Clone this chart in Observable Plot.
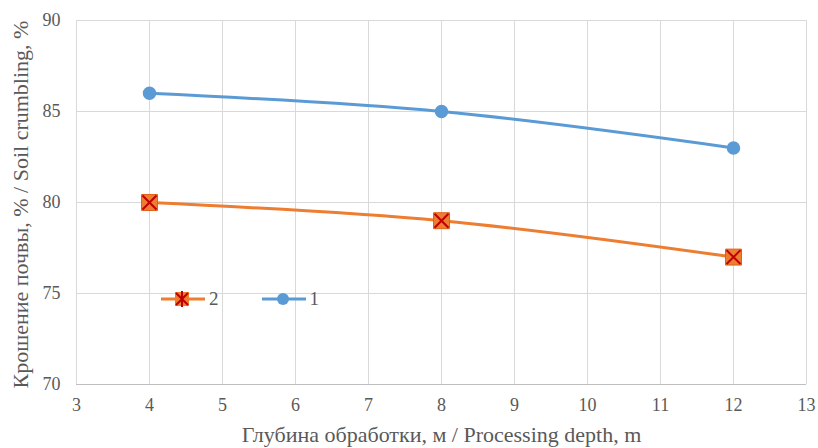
<!DOCTYPE html>
<html>
<head>
<meta charset="utf-8">
<script src="https://cdn.jsdelivr.net/npm/d3@7"></script>
<script src="https://cdn.jsdelivr.net/npm/@observablehq/plot@0.6"></script>
<style>
  html, body { margin: 0; padding: 0; background: #fff; }
  #wrap { position: relative; width: 818px; height: 448px; }
  #legend { position: absolute; left: 160px; top: 287px; display: flex; align-items: center;
    font-family: "Liberation Serif", "Times New Roman", serif; font-size: 19px; color: #595959; }
  #legend .item { display: flex; align-items: center; margin-right: 42px; }
  #legend svg { display: block; }
</style>
</head>
<body>
<div id="wrap"><div id="legend"></div></div>
<script>
const depths = [4, 8, 12];
const series1 = [86, 85, 83];
const series2 = [80, 79, 77];
const xTicks = [3, 4, 5, 6, 7, 8, 9, 10, 11, 12, 13];
const yTicks = [70, 75, 80, 85, 90];
const legendOrder = ["2", "1"];
const xLabel = "Глубина обработки, м / Processing depth, m";
const yLabel = "Крошение почвы, % / Soil crumbling, %";

const blue = "#5B9BD5";
const orange = "#ED7D31";
const darkRed = "#C00000";
const serifFont = "Liberation Serif";

const d1 = depths.map((d, i) => ({x: d, y: series1[i], s: "1"}));
const d2 = depths.map((d, i) => ({x: d, y: series2[i], s: "2"}));

const chart = Plot.plot({
  width: 818,
  height: 448,
  marginLeft: 76,
  marginRight: 12,
  marginTop: 20,
  marginBottom: 64,
  style: {fontFamily: serifFont, fontSize: "18px", color: "#595959", background: "#fff"},
  x: {domain: [3, 13]},
  y: {domain: [70, 90]},
  marks: [
    Plot.gridX(xTicks, {stroke: "#d9d9d9", strokeOpacity: 1, strokeWidth: 1}),
    Plot.gridY(yTicks, {stroke: "#d9d9d9", strokeOpacity: 1, strokeWidth: 1}),
    Plot.ruleY([70], {stroke: "#bfbfbf", strokeWidth: 1}),
    Plot.axisX(xTicks, {tickSize: 0, tickPadding: 14, fontSize: 18, fontFamily: serifFont, fill: "#595959", label: null}),
    Plot.axisY(yTicks, {tickSize: 0, tickPadding: 16, fontSize: 18, fontFamily: serifFont, fill: "#595959", label: null}),
    Plot.text([xLabel], {frameAnchor: "bottom", dy: 50, textAnchor: "middle", lineAnchor: "middle", fontSize: 22, fontFamily: serifFont, fill: "#595959"}),
    Plot.text([yLabel], {frameAnchor: "left", dx: -56, dy: 2, rotate: -90, textAnchor: "middle", lineAnchor: "middle", fontSize: 22, fontFamily: serifFont, fill: "#595959"}),
    Plot.line(d1, {x: "x", y: "y", stroke: blue, strokeWidth: 3, curve: "catmull-rom"}),
    Plot.line(d2, {x: "x", y: "y", stroke: orange, strokeWidth: 3, curve: "catmull-rom"}),
    Plot.dot(d1, {x: "x", y: "y", r: 6, fill: blue, stroke: blue}),
    Plot.dot(d2, {x: "x", y: "y", symbol: "square", r: 9, fill: orange, stroke: "#E0601A", strokeWidth: 1}),
    Plot.dot(d2, {x: "x", y: "y", symbol: "times", r: 6.4, stroke: darkRed, strokeWidth: 2})
  ]
});
document.getElementById("wrap").prepend(chart);

// Legend (HTML overlay)
const legend = document.getElementById("legend");
legendOrder.forEach(name => {
  const item = document.createElement("div");
  item.className = "item";
  const color = name === "1" ? blue : orange;
  let marker;
  if (name === "1") {
    marker = `<circle cx="22" cy="12" r="6" fill="${blue}"/>`;
  } else {
    marker = `<rect x="15" y="5" width="14" height="14" fill="${orange}"/>
      <path d="M16 6 L28 18 M28 6 L16 18 M22 4 L22 20" stroke="${darkRed}" stroke-width="2"/>`;
  }
  item.innerHTML = `<svg width="46" height="24"><line x1="1" x2="45" y1="12" y2="12" stroke="${color}" stroke-width="3"/>${marker}</svg><span style="margin-left:3px">${name}</span>`;
  legend.appendChild(item);
});
</script>
</body>
</html>
